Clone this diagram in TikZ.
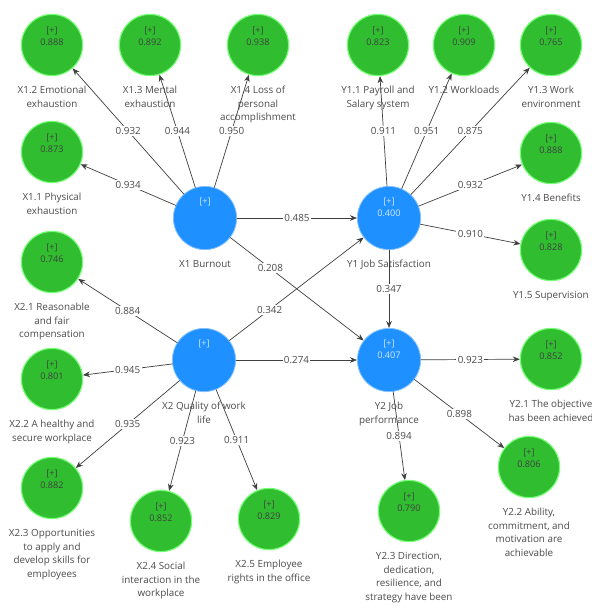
\documentclass[tikz,border=0pt]{standalone}
\usepackage{fontspec}
\setmainfont{Open Sans}
\usetikzlibrary{arrows.meta,positioning}
\definecolor{indgreen}{RGB}{48,190,48}
\definecolor{lvblue}{RGB}{30,144,255}
\newcommand{\indval}[1]{\raisebox{-0.5pt}[0pt][0pt]{\shortstack{[+]\\#1}}}
\newcommand{\lvval}[1]{\raisebox{1pt}[0pt][0pt]{\shortstack{[+]\\#1}}}
\tikzset{
  ind/.style={circle,fill=indgreen,draw=green!55!white,line width=0.8pt,minimum size=1.53cm,inner sep=0pt,
    text=black!75,font=\fontsize{6.5}{8.5}\selectfont},
  lv/.style={circle,fill=lvblue,draw=lvblue!55!white,line width=0.6pt,minimum size=1.58cm,inner sep=0pt,
    text=white!80!lvblue,font=\fontsize{6.5}{9.2}\selectfont},
  lbl/.style={align=center,inner sep=0pt,text=black!70,font=\fontsize{7}{9.6}\selectfont},
  coef/.style={fill=white,inner sep=1pt,text=black!70,font=\fontsize{7}{8}\selectfont},
  link/.style={->,black!75,line width=0.5pt}
}

\begin{document}
\begin{tikzpicture}[x=0.025cm,y=-0.025cm,>={Stealth[length=5pt,width=4pt]},line cap=round]
\useasboundingbox[fill=white] (0,0) rectangle (592,608);
% latent variables
\node[lv] (x1) at (205,218) {\lvval{\phantom{0.000}}};
\node[lv] (y1) at (389,218) {\lvval{0.400}};
\node[lv] (x2) at (204,360) {\lvval{\phantom{0.000}}};
\node[lv] (y2) at (389,360) {\lvval{0.407}};
\node[lbl,below=7pt of x1] (x1t) {X1 Burnout};
\node[lbl,below=7pt of y1] (y1t) {Y1 Job Satisfaction};
\node[lbl,below=7pt of x2] (x2t) {X2 Quality of work\\life};
\node[lbl,below=7pt of y2] (y2t) {Y2 Job\\performance};
% indicators
\node[ind] (x12) at (52,45) {\indval{0.888}};
\node[ind] (x13) at (150,45) {\indval{0.892}};
\node[ind] (x14) at (258,45) {\indval{0.938}};
\node[ind] (x11) at (52,152) {\indval{0.873}};
\node[ind] (y11) at (378,45) {\indval{0.823}};
\node[ind] (y12) at (464,45) {\indval{0.909}};
\node[ind] (y13) at (551,45) {\indval{0.765}};
\node[ind] (y14) at (551,153) {\indval{0.888}};
\node[ind] (y15) at (551,250) {\indval{0.828}};
\node[ind] (x21) at (52,262) {\indval{0.746}};
\node[ind] (x22) at (52,379) {\indval{0.801}};
\node[ind] (x23) at (52,488) {\indval{0.882}};
\node[ind] (x24) at (161,521) {\indval{0.852}};
\node[ind] (x25) at (269,519) {\indval{0.829}};
\node[ind] (y21) at (551,359) {\indval{0.852}};
\node[ind] (y22) at (529,467) {\indval{0.806}};
\node[ind] (y23) at (409,511) {\indval{0.790}};
\node[lbl,below=7pt of x12] (x12t) {X1.2 Emotional\\exhaustion};
\node[lbl,below=7pt of x13] (x13t) {X1.3 Mental\\exhaustion};
\node[lbl,below=7pt of x14] (x14t) {X1.4 Loss of\\personal\\accomplishment};
\node[lbl,below=7pt of x11] (x11t) {X1.1 Physical\\exhaustion};
\node[lbl,below=7pt of y11] (y11t) {Y1.1 Payroll and\\Salary system};
\node[lbl,below=7pt of y12] (y12t) {Y1.2 Workloads};
\node[lbl,below=7pt of y13] (y13t) {Y1.3 Work\\environment};
\node[lbl,below=7pt of y14] (y14t) {Y1.4 Benefits};
\node[lbl,below=7pt of y15] (y15t) {Y1.5 Supervision};
\node[lbl,below=7pt of x21] (x21t) {X2.1 Reasonable\\and fair\\compensation};
\node[lbl,below=7pt of x22] (x22t) {X2.2 A healthy and\\secure workplace};
\node[lbl,below=7pt of x23] (x23t) {X2.3 Opportunities\\to apply and\\develop skills for\\employees};
\node[lbl,below=7pt of x24] (x24t) {X2.4 Social\\interaction in the\\workplace};
\node[lbl,below=7pt of x25] (x25t) {X2.5 Employee\\rights in the office};
\node[lbl,below=7pt of y21] (y21t) {Y2.1 The objective\\has been achieved};
\node[lbl,below=7pt of y22] (y22t) {Y2.2 Ability,\\commitment, and\\motivation are\\achievable};
\node[lbl,below=7pt of y23] (y23t) {Y2.3 Direction,\\dedication,\\resilience, and\\strategy have been};
% outer loadings
\draw[link] (x1) -- node[coef]{0.932} (x12);
\draw[link] (x1) -- node[coef]{0.944} (x13);
\draw[link] (x1) -- node[coef]{0.950} (x14);
\draw[link] (x1) -- node[coef]{0.934} (x11);
\draw[link] (y1) -- node[coef]{0.911} (y11);
\draw[link] (y1) -- node[coef]{0.951} (y12);
\draw[link] (y1) -- node[coef]{0.875} (y13);
\draw[link] (y1) -- node[coef]{0.932} (y14);
\draw[link] (y1) -- node[coef]{0.910} (y15);
\draw[link] (x2) -- node[coef]{0.884} (x21);
\draw[link] (x2) -- node[coef]{0.945} (x22);
\draw[link] (x2) -- node[coef]{0.935} (x23);
\draw[link] (x2) -- node[coef]{0.923} (x24);
\draw[link] (x2) -- node[coef]{0.911} (x25);
\draw[link] (y2) -- node[coef]{0.923} (y21);
\draw[link] (y2) -- node[coef]{0.898} (y22);
\draw[link] (y2) -- node[coef]{0.894} (y23);
% path coefficients
\draw[link] (x1) -- node[coef]{0.485} (y1);
\draw[link] (x1) -- node[coef,pos=0.3]{0.208} (y2);
\draw[link] (x2) -- node[coef,pos=0.3]{0.342} (y1);
\draw[link] (x2) -- node[coef]{0.274} (y2);
\draw[link] (y1) -- node[coef]{0.347} (y2);
\end{tikzpicture}
\end{document}
